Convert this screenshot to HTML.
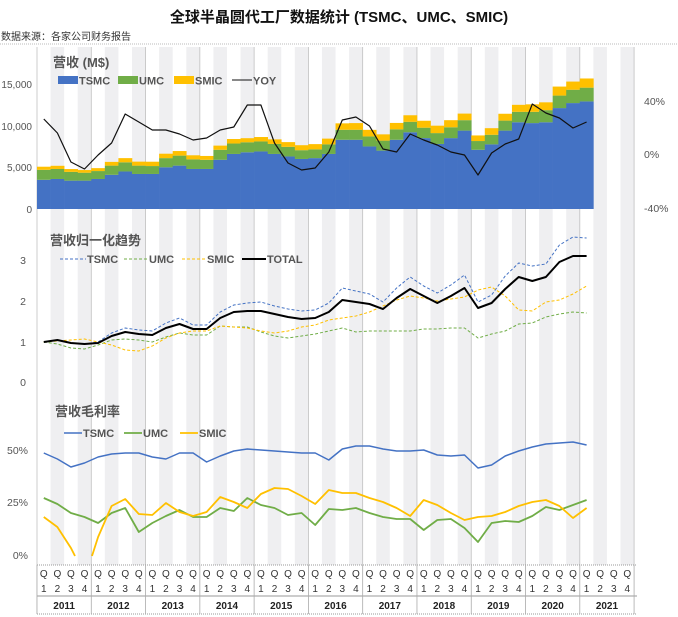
<!DOCTYPE html>
<html><head><meta charset="utf-8"><style>
body{margin:0;background:#fff;width:678px;height:617px;overflow:hidden;font-family:"Liberation Sans","Noto Sans CJK SC",sans-serif}
svg{display:block}
text{font-family:"Liberation Sans","Noto Sans CJK SC",sans-serif}
</style></head><body>
<svg id="s" width="678" height="617" xmlns="http://www.w3.org/2000/svg"></svg>
<script>
const X0=37,QW=13.57;
const cx=i=>X0+QW*(i+0.5);
let h='';
for(let i=0;i<44;i++){if(i%2==1)h+=`<rect x="${X0+QW*i}" y="47" width="${QW}" height="549" fill="#efeff1"/>`;}
for(let y=0;y<=11;y++){const x=X0+54.28*y;h+=`<line x1="${x}" y1="47" x2="${x}" y2="614" stroke="#c0c0c0" stroke-width="0.8"/>`;}
h+=`<line x1="0" y1="44" x2="678" y2="44" stroke="#bbb" stroke-dasharray="1,1"/>`;
h+=`<text x="339" y="22" text-anchor="middle" font-size="15" font-weight="bold" fill="#111">全球半晶圆代工厂数据统计 (TSMC、UMC、SMIC)</text>`;
h+=`<text x="1" y="40" font-size="10" fill="#333">数据来源：各家公司财务报告</text>`;
const T=[3500,3600,3400,3400,3600,4100,4500,4200,4200,5000,5200,4800,4800,5900,6600,6800,6900,6600,6300,6000,6100,6600,8300,8300,7500,7000,8300,9200,8500,7800,8500,9400,7100,7750,9400,10400,10300,10400,12100,12700,12900];
const U=[1200,1200,1050,950,950,1100,1100,1000,950,1100,1200,1150,1100,1200,1250,1200,1200,1200,1150,1050,1050,1150,1200,1200,1200,1200,1250,1250,1250,1300,1300,1250,1050,1150,1200,1250,1350,1450,1500,1600,1650];
const S=[370,380,340,320,350,450,500,480,520,530,550,490,460,500,540,490,530,550,570,600,630,690,770,800,790,750,770,790,830,890,850,790,670,790,820,840,900,940,1080,980,1100];
const yb=v=>209-v*0.00834;
for(let i=0;i<41;i++){const x=X0+QW*i;const a=yb(T[i]),b=yb(T[i]+U[i]),c=yb(T[i]+U[i]+S[i]);
h+=`<rect x="${x}" y="${a}" width="${QW+0.3}" height="${209-a}" fill="#4472c4"/><rect x="${x}" y="${b}" width="${QW+0.3}" height="${a-b}" fill="#70ad47"/><rect x="${x}" y="${c}" width="${QW+0.3}" height="${b-c}" fill="#ffc000"/>`;}
const Y=[119,133,162,169,155,143,114,122,130,130,134,140,138,130,127,105,105,143,163,170,168,152,120,117,126,149,152,134,140,145,152,155,175,153,144,139,104,113,118,128,122];
const pl=(a,c,w,d)=>`<polyline fill="none" stroke="${c}" stroke-width="${w}" ${d?`stroke-dasharray="${d}"`:''} stroke-linejoin="round" points="${a.map((y,i)=>cx(i).toFixed(1)+','+y).join(' ')}"/>`;
h+=pl(Y,'#111',1.2);
[['15,000',84],['10,000',126],['5,000',167],['0',209]].forEach(([t,y])=>h+=`<text x="32" y="${y+4}" text-anchor="end" font-size="10" fill="#555">${t}</text>`);
[['40%',101],['0%',154],['-40%',208]].forEach(([t,y])=>h+=`<text x="644" y="${y+4}" font-size="10.5" fill="#555">${t}</text>`);
h+=`<text x="53" y="67" font-size="13" font-weight="bold" fill="#555">营收 (M&#36;)</text>`;
h+=`<rect x="58" y="76" width="20" height="8" fill="#4472c4"/><text x="79" y="84.5" font-size="11" font-weight="bold" fill="#555">TSMC</text>`;
h+=`<rect x="118" y="76" width="20" height="8" fill="#70ad47"/><text x="139" y="84.5" font-size="11" font-weight="bold" fill="#555">UMC</text>`;
h+=`<rect x="174" y="76" width="20" height="8" fill="#ffc000"/><text x="195" y="84.5" font-size="11" font-weight="bold" fill="#555">SMIC</text>`;
h+=`<line x1="232" y1="80" x2="252" y2="80" stroke="#111"/><text x="253" y="84.5" font-size="11" font-weight="bold" fill="#555">YOY</text>`;
const TT=[342,340,343,344,343,336,332,334,335,328,324,329,329,318,312,311,311,314,317,319,318,312,300,302,304,309,298,289,296,303,296,288,308,303,289,277,281,277,262,256,256];
const TS=[342,340,343,344,342,333,328,330,331,323,318,325,325,312,305,303,302,306,309,311,310,303,288,291,294,302,288,277,286,293,285,275,302,295,276,263,266,264,245,237,238];
const TU=[342,344,348,349,345,340,339,340,342,337,333,335,335,326,327,327,332,336,338,336,334,331,328,332,331,331,331,331,329,329,328,328,338,334,331,324,323,317,314,312,313];
const TM=[342,341,340,339,342,345,350,351,346,338,333,331,331,326,327,328,331,333,331,327,325,320,318,316,312,306,300,296,298,301,299,297,290,287,296,310,311,302,300,294,286];
h+=pl(TS,'#4472c4',1,'3,2')+pl(TU,'#70ad47',1,'3,2')+pl(TM,'#ffc000',1,'3,2')+pl(TT,'#000',2);
[['3',260],['2',301],['1',342],['0',382]].forEach(([t,y])=>h+=`<text x="26" y="${y+4}" text-anchor="end" font-size="10.5" fill="#555">${t}</text>`);
h+=`<text x="50" y="245" font-size="13" font-weight="bold" fill="#555">营收归一化趋势</text>`;
h+=`<line x1="60" y1="259" x2="86" y2="259" stroke="#4472c4" stroke-dasharray="3,2"/><text x="87" y="263" font-size="11" font-weight="bold" fill="#555">TSMC</text>`;
h+=`<line x1="124" y1="259" x2="148" y2="259" stroke="#70ad47" stroke-dasharray="3,2"/><text x="149" y="263" font-size="11" font-weight="bold" fill="#555">UMC</text>`;
h+=`<line x1="182" y1="259" x2="206" y2="259" stroke="#ffc000" stroke-dasharray="3,2"/><text x="207" y="263" font-size="11" font-weight="bold" fill="#555">SMIC</text>`;
h+=`<line x1="242" y1="259" x2="266" y2="259" stroke="#000" stroke-width="2"/><text x="267" y="263" font-size="11" font-weight="bold" fill="#555">TOTAL</text>`;
const MT=[453,459,467,463,457,454,453,453,457,459,453,453,462,456,451,449,450,451,452,453,453,460,449,446,446,449,451,451,450,455,456,455,468,465,456,451,447,444,443,442,445];
const MU=[498,504,513,517,523,513,508,532,523,516,510,517,517,508,511,498,505,508,515,513,525,509,510,508,513,517,519,519,530,520,519,528,542,523,521,522,516,507,510,505,500];
const MS=[517,527,548,null,537,506,499,514,515,503,512,516,512,497,502,508,494,488,489,496,504,490,493,493,498,502,508,516,500,505,513,520,517,516,512,506,502,500,506,518,508];
h+=pl(MT,'#4472c4',1.5)+pl(MU,'#70ad47',1.8);
h+=`<polyline fill="none" stroke="#ffc000" stroke-width="1.8" points="${cx(0)},517 ${cx(1)},527 ${cx(2)},548 75,556"/>`;
h+=`<polyline fill="none" stroke="#ffc000" stroke-width="1.8" stroke-linejoin="round" points="92,556 ${MS.slice(4).map((y,i)=>cx(i+4).toFixed(1)+','+y).join(' ')}"/>`;
[['50%',450],['25%',502],['0%',555]].forEach(([t,y])=>h+=`<text x="28" y="${y+4}" text-anchor="end" font-size="10.5" fill="#555">${t}</text>`);
h+=`<text x="55" y="416" font-size="13" font-weight="bold" fill="#555">营收毛利率</text>`;
h+=`<line x1="64" y1="433" x2="82" y2="433" stroke="#4472c4" stroke-width="1.5"/><text x="83" y="437" font-size="11" font-weight="bold" fill="#555">TSMC</text>`;
h+=`<line x1="124" y1="433" x2="142" y2="433" stroke="#70ad47" stroke-width="1.8"/><text x="143" y="437" font-size="11" font-weight="bold" fill="#555">UMC</text>`;
h+=`<line x1="180" y1="433" x2="198" y2="433" stroke="#ffc000" stroke-width="1.8"/><text x="199" y="437" font-size="11" font-weight="bold" fill="#555">SMIC</text>`;
h+=`<rect x="37" y="565" width="600" height="52" fill="#fff"/>`;
h+=`<line x1="37" y1="565" x2="637" y2="565" stroke="#999" stroke-dasharray="1,1"/><line x1="37" y1="596" x2="637" y2="596" stroke="#999"/><line x1="37" y1="614" x2="637" y2="614" stroke="#999" stroke-dasharray="1,1"/>`;
for(let y=0;y<=11;y++){const x=X0+54.28*y;h+=`<line x1="${x}" y1="565" x2="${x}" y2="614" stroke="#aaa" stroke-width="0.8"/>`;}
for(let i=0;i<44;i++){h+=`<text x="${cx(i)}" y="577" text-anchor="middle" font-size="10" fill="#333">Q</text><text x="${cx(i)}" y="592" text-anchor="middle" font-size="10" fill="#333">${i%4+1}</text>`;}
for(let y=0;y<11;y++){h+=`<text x="${X0+54.28*(y+0.5)}" y="609" text-anchor="middle" font-size="10" font-weight="bold" fill="#222">${2011+y}</text>`;}
document.getElementById('s').innerHTML=h;
</script>
</body></html>
